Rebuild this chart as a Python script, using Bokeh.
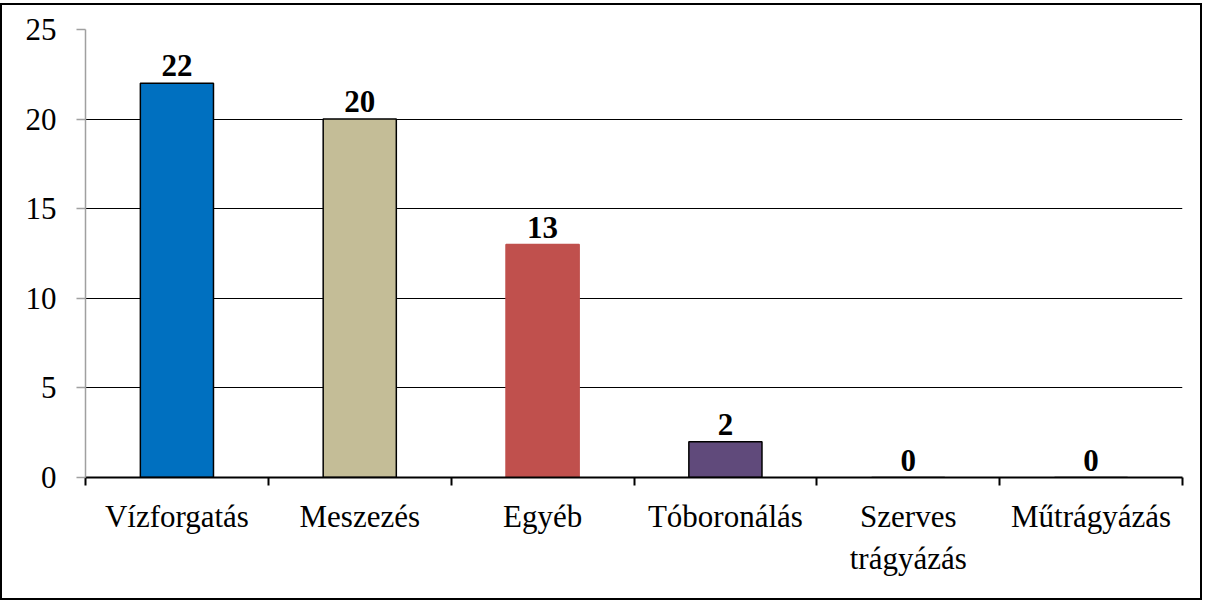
from bokeh.plotting import figure
from bokeh.models import ColumnDataSource, FixedTicker, Range1d, LabelSet
from bokeh.embed import file_html
from bokeh.resources import INLINE

categories = ["Vízforgatás", "Meszezés", "Egyéb", "Tóboronálás", "Szerves trágyázás", "Műtrágyázás"]
tick_labels = ["Vízforgatás", "Meszezés", "Egyéb", "Tóboronálás", "Szerves\ntrágyázás", "Műtrágyázás"]
values = [22, 20, 13, 2, 0, 0]
colors = ["#0070C0", "#C4BD97", "#C0504D", "#604A7B", "#4F81BD", "#F79646"]
outline_colors = ["black", "black", "#C0504D", "black", "black", "black"]
y_ticks = [0, 5, 10, 15, 20, 25]

FONT = "Liberation Serif"
n = len(categories)
centers = [i + 0.5 for i in range(n)]

source = ColumnDataSource(dict(
    x=centers, top=values, color=colors, line=outline_colors,
    label=[str(v) for v in values],
))

p = figure(width=1202, height=597, output_backend="svg", toolbar_location=None,
           x_range=Range1d(0, n), y_range=Range1d(0, 25),
           min_border_left=83, min_border_right=22, min_border_top=24, min_border_bottom=125)
p.styles = {"border": "2px solid black", "margin-top": "3px"}
p.outline_line_color = None
p.background_fill_color = "white"
p.border_fill_color = "white"

p.vbar(x="x", top="top", bottom=0, width=0.4, source=source,
       fill_color="color", line_color="line", line_width=1.5)

labels = LabelSet(x="x", y="top", text="label", source=source, y_offset=7,
                  text_align="center", text_baseline="bottom",
                  text_font=FONT, text_font_size="31px", text_font_style="bold",
                  text_color="black")
p.add_layout(labels)

# x axis
p.xaxis.ticker = FixedTicker(ticks=centers, minor_ticks=list(range(n + 1)))
p.xaxis.major_label_overrides = {c: t for c, t in zip(centers, tick_labels)}
p.xaxis.major_tick_out = 0
p.xaxis.major_tick_in = 0
p.xaxis.minor_tick_out = 8
p.xaxis.minor_tick_in = 0
p.xaxis.minor_tick_line_color = "black"
p.xaxis.minor_tick_line_width = 2
p.xaxis.axis_line_color = "black"
p.xaxis.axis_line_width = 2
p.xaxis.major_label_text_font = FONT
p.xaxis.major_label_text_font_size = "31px"
p.xaxis.major_label_text_color = "black"
p.xaxis.major_label_standoff = 13
p.xgrid.grid_line_color = None

# y axis
p.yaxis.ticker = FixedTicker(ticks=y_ticks)
p.yaxis.axis_line_color = "#A0A0A0"
p.yaxis.axis_line_width = 1.5
p.yaxis.major_tick_line_color = "#A0A0A0"
p.yaxis.major_tick_line_width = 1.5
p.yaxis.major_tick_out = 9
p.yaxis.major_tick_in = 0
p.yaxis.minor_tick_line_color = None
p.yaxis.major_label_text_font = FONT
p.yaxis.major_label_text_font_size = "31px"
p.yaxis.major_label_text_color = "black"
p.yaxis.major_label_standoff = 20
p.ygrid.grid_line_color = "black"
p.ygrid.grid_line_width = 1.2

open("out.html", "w").write(file_html(p, INLINE))
